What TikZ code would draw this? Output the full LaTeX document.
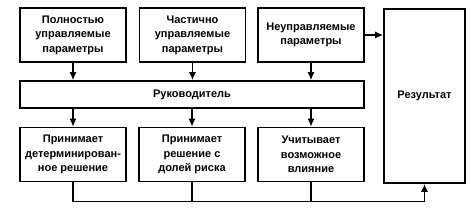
\documentclass[tikz,border=0pt]{standalone}
\usepackage{fontspec}
\setmainfont{Liberation Sans}
\usetikzlibrary{arrows.meta}
\begin{document}
\begin{tikzpicture}[
    x=1pt, y=-1pt,
    box/.style={rectangle, draw, line width=1.7pt, minimum width=106pt, minimum height=54pt, align=center, inner sep=1pt, font=\fontsize{11}{14.5}\selectfont\bfseries},
    wire/.style={line width=1.3pt},
    link/.style={wire, -{Latex[length=8pt, width=7pt]}}
]
    \useasboundingbox (0,0) rectangle (473,213);

    \node[box] (p1) at (73,35) {Полностью\\управляемые\\параметры};
    \node[box] (p2) at (192.5,35) {Частично\\управляемые\\параметры};
    \node[box] (p3) at (311,35) {Неуправляемые\\параметры};

    \node[box, minimum width=344pt, minimum height=27pt] (boss) at (192,94.5) {Руководитель};

    \node[box] (r1) at (73,154.5) {Принимает\\детерминирован-\\ное решение};
    \node[box] (r2) at (192,154.5) {Принимает\\решение с\\долей риска};
    \node[box] (r3) at (311,154.5) {Учитывает\\возможное\\влияние};

    \node[box, minimum width=81pt, minimum height=174pt] (res) at (424.5,96) {Результат};

    \draw[link] (p1.south) -- (p1.south |- boss.north);
    \draw[link] (p2.south) -- (p2.south |- boss.north);
    \draw[link] (p3.south) -- (p3.south |- boss.north);
    \draw[link] (r1.north |- boss.south) -- (r1.north);
    \draw[link] (r2.north |- boss.south) -- (r2.north);
    \draw[link] (r3.north |- boss.south) -- (r3.north);
    \draw[link] (p3.east) -- (p3.east -| res.west);

    \path (res.south) ++(0,18) coordinate (bus);
    \draw[link] (r1.south) |- (bus) -- (res.south);
    \draw[wire] (r2.south) -- (r2.south |- bus);
    \draw[wire] (r3.south) -- (r3.south |- bus);
\end{tikzpicture}
\end{document}
